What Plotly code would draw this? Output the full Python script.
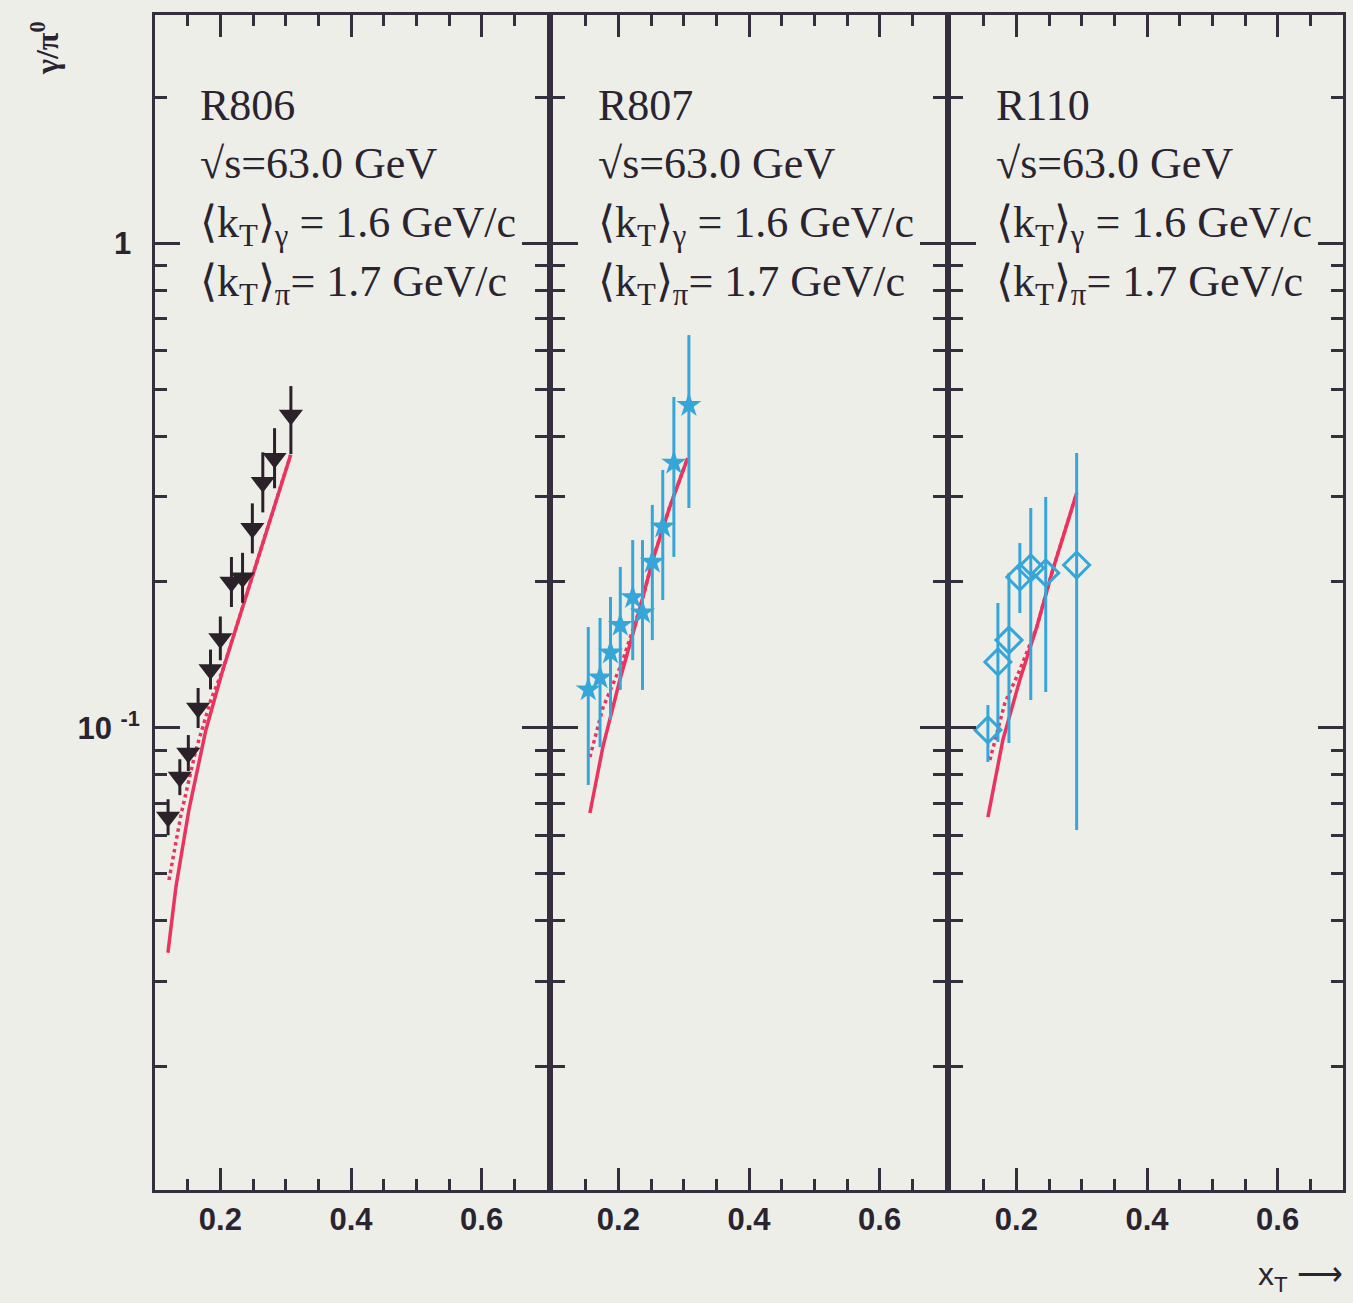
import plotly.graph_objects as go

# ---------------- data ----------------
# R806: gamma/pi0 ratio (upper-limit style markers)
xt_r806 = [0.120, 0.138, 0.151, 0.166, 0.185, 0.200, 0.217, 0.234, 0.249, 0.265, 0.283, 0.308]
ratio_r806 = [0.0655, 0.0792, 0.0888, 0.110, 0.132, 0.153, 0.200, 0.204, 0.258, 0.321, 0.360, 0.442]
err_up_r806 = [0.0058, 0.0070, 0.0079, 0.0109, 0.0131, 0.0168, 0.0252, 0.0257, 0.0325, 0.0491, 0.0551, 0.065]
err_dn_r806 = [0.0054, 0.0065, 0.0073, 0.0100, 0.0119, 0.0151, 0.0224, 0.0228, 0.0289, 0.0427, 0.0479, 0.075]

# R807
xt_r807 = [0.154, 0.172, 0.188, 0.203, 0.222, 0.237, 0.252, 0.268, 0.285, 0.308]
ratio_r807 = [0.120, 0.127, 0.143, 0.163, 0.186, 0.173, 0.220, 0.260, 0.352, 0.463]
high_r807 = [0.1615, 0.1686, 0.1863, 0.2148, 0.244, 0.244, 0.2884, 0.3404, 0.4815, 0.6459]
low_r807 = [0.0763, 0.0913, 0.1039, 0.1198, 0.138, 0.1198, 0.1518, 0.1836, 0.2253, 0.2842]

# R110
xt_r110 = [0.1565, 0.1718, 0.1887, 0.2054, 0.2221, 0.2450, 0.2923]
ratio_r110 = [0.0991, 0.1368, 0.1518, 0.2048, 0.2138, 0.2088, 0.2168]
high_r110 = [0.1115, 0.181, 0.2088, 0.2406, 0.2842, 0.2995, 0.369]
low_r110 = [0.0851, 0.0936, 0.0931, 0.1726, 0.1142, 0.1186, 0.0616]

# QCD curves (solid and dotted) for each experiment
curve_solid_x_r806 = [0.1198, 0.132, 0.1519, 0.1779, 0.2038, 0.2282, 0.2542, 0.2847, 0.3076]
curve_solid_y_r806 = [0.0344, 0.0470, 0.0678, 0.0991, 0.1317, 0.1675, 0.216, 0.294, 0.3655]
curve_dot_x_r806 = [0.1214, 0.1397, 0.1626, 0.1855, 0.2038, 0.2542, 0.3076]
curve_dot_y_r806 = [0.0486, 0.0662, 0.0901, 0.1142, 0.1317, 0.216, 0.3655]

curve_solid_x_r807 = [0.1565, 0.1763, 0.2023, 0.2282, 0.2527, 0.2786, 0.3061]
curve_solid_y_r807 = [0.0668, 0.0913, 0.1256, 0.167, 0.222, 0.2855, 0.3602]
curve_dot_x_r807 = [0.1565, 0.1763, 0.2053, 0.2328, 0.2527, 0.2786, 0.3061]
curve_dot_y_r807 = [0.0871, 0.110, 0.136, 0.176, 0.222, 0.2855, 0.3602]

curve_solid_x_r110 = [0.1565, 0.1794, 0.2053, 0.2313, 0.2557, 0.2924]
curve_solid_y_r110 = [0.0655, 0.0945, 0.1256, 0.1615, 0.2117, 0.3051]
curve_dot_x_r110 = [0.1595, 0.1824, 0.2053, 0.2313, 0.2557, 0.2924]
curve_dot_y_r110 = [0.0859, 0.1126, 0.1317, 0.1615, 0.2117, 0.3051]

experiments = ["R806", "R807", "R110"]
info_lines = [
    "\u221As=63.0 GeV",
    "\u27E8k<sub>T</sub>\u27E9<sub>\u03B3</sub> = 1.6 GeV/c",
    "\u27E8k<sub>T</sub>\u27E9<sub>\u03C0</sub>= 1.7 GeV/c",
]

x_major = [0.2, 0.4, 0.6]
x_major_text = ["0.2", "0.4", "0.6"]
x_minor = [0.15, 0.25, 0.3, 0.35, 0.45, 0.5, 0.55, 0.65]
y_major = [0.1, 1]
y_major_text = ["10 <sup>-1</sup>", "1 "]
y_minor = [0.02, 0.03, 0.04, 0.05, 0.06, 0.07, 0.08, 0.09,
           0.2, 0.3, 0.4, 0.5, 0.6, 0.7, 0.8, 0.9, 2]

# ---------------- style ----------------
W, H = 1353, 1303
BG = "#eeeee9"
INK = "#352f3d"
TEXT = "#2a2430"
BLACK = "#2b2229"
CYAN = "#36a6d8"
RED = "#e8345f"
SERIF = "Liberation Serif, Times New Roman, serif"
SANS = "Liberation Sans, Arial, sans-serif"

# panel frames in pixels (left, right); shared top/bottom
panels_px = [(155, 547), (553, 945), (951, 1343)]
top_px, bottom_px = 15, 1190


def px_x(p):
    return p / W


def px_y(p):
    return 1 - p / H


fig = go.Figure()


def add_curves(xs, ys, xd, yd, ax):
    fig.add_trace(go.Scatter(x=xd, y=yd, mode="lines", xaxis=ax[0], yaxis=ax[1],
                             line=dict(color=RED, width=3.5, dash="dot"),
                             showlegend=False, hoverinfo="skip"))
    fig.add_trace(go.Scatter(x=xs, y=ys, mode="lines", xaxis=ax[0], yaxis=ax[1],
                             line=dict(color=RED, width=3.5),
                             showlegend=False, hoverinfo="skip"))


# Panel 1: R806
add_curves(curve_solid_x_r806, curve_solid_y_r806, curve_dot_x_r806, curve_dot_y_r806, ("x", "y"))
fig.add_trace(go.Scatter(
    x=xt_r806, y=ratio_r806, mode="markers", xaxis="x", yaxis="y",
    marker=dict(symbol="triangle-down", size=21, color=BLACK),
    error_y=dict(type="data", array=err_up_r806, arrayminus=err_dn_r806,
                 color=BLACK, thickness=3, width=0),
    showlegend=False))

# Panel 2: R807
add_curves(curve_solid_x_r807, curve_solid_y_r807, curve_dot_x_r807, curve_dot_y_r807, ("x2", "y2"))
fig.add_trace(go.Scatter(
    x=xt_r807, y=ratio_r807, mode="markers", xaxis="x2", yaxis="y2",
    marker=dict(symbol="star", size=19, color=CYAN),
    error_y=dict(type="data",
                 array=[h - v for h, v in zip(high_r807, ratio_r807)],
                 arrayminus=[v - l for v, l in zip(ratio_r807, low_r807)],
                 color=CYAN, thickness=3, width=0),
    showlegend=False))

# Panel 3: R110
add_curves(curve_solid_x_r110, curve_solid_y_r110, curve_dot_x_r110, curve_dot_y_r110, ("x3", "y3"))
fig.add_trace(go.Scatter(
    x=xt_r110, y=ratio_r110, mode="markers", xaxis="x3", yaxis="y3",
    marker=dict(symbol="diamond-open", size=20, color=CYAN, line=dict(width=3, color=CYAN)),
    error_y=dict(type="data",
                 array=[h - v for h, v in zip(high_r110, ratio_r110)],
                 arrayminus=[v - l for v, l in zip(ratio_r110, low_r110)],
                 color=CYAN, thickness=3, width=0),
    showlegend=False))

layout = dict(
    width=W, height=H,
    paper_bgcolor=BG, plot_bgcolor=BG,
    margin=dict(l=0, r=0, t=0, b=0),
    showlegend=False,
)

tick_font = dict(family=SANS, size=31, color=TEXT, weight="bold")
y_domain = [px_y(bottom_px), px_y(top_px)]
for i, (l, r) in enumerate(panels_px):
    sx = "" if i == 0 else str(i + 1)
    layout["xaxis" + sx] = dict(
        domain=[px_x(l), px_x(r)], range=[0.1, 0.7], anchor="y" + sx,
        showgrid=False, zeroline=False,
        showline=True, linewidth=3, linecolor=INK, mirror="ticks",
        ticks="inside", ticklen=22, tickwidth=2.5, tickcolor=INK,
        tickmode="array", tickvals=x_major, ticktext=x_major_text,
        tickfont=tick_font,
        minor=dict(ticks="inside", ticklen=11, tickwidth=2.5, tickcolor=INK,
                   tickmode="array", tickvals=x_minor, showgrid=False),
    )
    layout["yaxis" + sx] = dict(
        domain=y_domain, type="log", range=[-1.9526, 0.4701], anchor="x" + sx,
        showgrid=False, zeroline=False,
        showline=True, linewidth=3, linecolor=INK, mirror="ticks",
        ticks="inside", ticklen=25, tickwidth=2.5, tickcolor=INK,
        tickmode="array", tickvals=y_major, ticktext=y_major_text,
        showticklabels=(i == 0), ticklabelstandoff=6,
        tickfont=tick_font,
        minor=dict(ticks="inside", ticklen=12, tickwidth=2.5, tickcolor=INK,
                   tickmode="array", tickvals=y_minor, showgrid=False),
    )

annotations = []
text_offset = 43
line_y = [105, 163, 226, 284]
for i, (l, r) in enumerate(panels_px):
    lines = [experiments[i]] + info_lines
    for j, txt in enumerate(lines):
        annotations.append(dict(
            xref="paper", yref="paper", x=px_x(l + text_offset), y=px_y(line_y[j]),
            xanchor="left", yanchor="middle", text=txt, showarrow=False,
            font=dict(family=SERIF, size=44, color=TEXT),
        ))

# axis titles
annotations.append(dict(
    xref="paper", yref="paper", x=px_x(45), y=px_y(48),
    xanchor="center", yanchor="middle", textangle=-90,
    text="\u03B3/\u03C0<sup>0</sup>", showarrow=False,
    font=dict(family=SERIF, size=32, color=TEXT, weight="bold"),
))
annotations.append(dict(
    xref="paper", yref="paper", x=px_x(1345), y=px_y(1276),
    xanchor="right", yanchor="middle",
    text="x<sub>T</sub> \u27F6", showarrow=False,
    font=dict(family=SANS, size=32, color=TEXT),
))
layout["annotations"] = annotations

fig.update_layout(**layout)
fig.write_html("out.html")
